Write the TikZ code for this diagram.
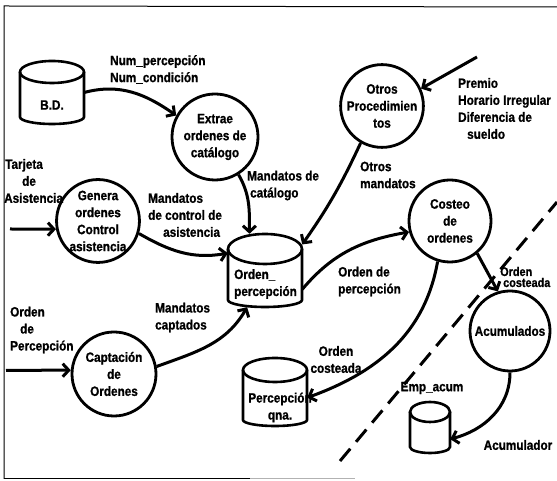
\documentclass[tikz,border=0pt]{standalone}
\usepackage{fontspec}
\setmainfont{Liberation Sans}[FakeStretch=0.87,FakeBold=1]
\usetikzlibrary{arrows.meta}

\begin{document}
\begin{tikzpicture}[x=1pt,y=1pt,
    every node/.style={font=\bfseries\fontsize{13.5}{17}\selectfont},
    proceso/.style={circle,draw,line width=2.8pt,minimum size=#1,inner sep=0pt,align=center},
    proceso/.default=82pt,
    borde/.style={line width=2.6pt},
    flujo/.style={line width=3pt,-{Straight Barb[length=6pt,width=13pt]}},
    etiqueta/.style={align=left,inner sep=0pt,anchor=west}]
        \useasboundingbox (0,0) rectangle (557,481);
        % cornice
        \draw[line width=1pt] (4,2) -- (4,475) -- (557,474);
        \draw[line width=1pt] (4,2) -- (250,2);
        \draw[line width=1pt,gray!60] (250,2) -- (355,2);
        % archivi
        \draw[borde] (52,409) ellipse (32pt and 11pt);
        \draw[borde] (20,409) -- (20,364) arc (180:360:32pt and 7pt) -- (84,409);
        \node[minimum width=64pt,minimum height=63pt] (bd) at (52,388.5) {};
        \node (bdtxt) at (52,376) {B.D.};
        \draw[borde] (265,232) ellipse (37pt and 15pt);
        \draw[borde] (228,232) -- (228,181) arc (180:360:37pt and 7pt) -- (302,232);
        \node[minimum width=74pt,minimum height=73pt] (op) at (265,210.5) {};
        \node[etiqueta] (optxt) at (234,197) {Orden\_\\percepción};
        \draw[borde] (275,111) ellipse (32pt and 12pt);
        \draw[borde] (243,111) -- (243,61) arc (180:360:32pt and 6pt) -- (307,111);
        \node[minimum width=64pt,minimum height=68pt] (pq) at (275,89) {};
        \node[align=center,inner sep=0pt] (pqtxt) at (280,73.5) {Percepción\\qna.};
        \draw[borde] (430,69) ellipse (20pt and 10pt);
        \draw[borde] (410,69) -- (410,34) arc (180:360:20pt and 6pt) -- (450,69);
        \node[minimum width=40pt,minimum height=51pt] (ea) at (430,53.5) {};
        % processi
        \node[proceso=86pt] (extrae) at (215,344) {Extrae\\ordenes de\\catálogo};
        \node[proceso] (otros) at (382,375) {Otros\\Procedimien\\tos};
        \node[proceso] (genera) at (98,260) {Genera\\ordenes\\Control\\asistencia};
        \node[proceso=84pt] (captacion) at (114,107) {Captación\\de\\Ordenes};
        \node[proceso] (costeo) at (450,260) {Costeo\\de\\ordenes};
        \node[proceso=80pt] (acumulados) at (510,150) {Acumulados};
        % ingressi esterni
        \coordinate (tarjeta) at (10,252);
        \coordinate (orden) at (6,110.7);
        \coordinate (premio) at (477,424);
        % flussi
        \draw[flujo] (tarjeta) -- (genera.191);
        \draw[flujo] (orden) -- (captacion.175);
        \draw[flujo] (premio) -- (otros.24);
        \draw[flujo] (bd.east) to[out=15,in=145] (extrae.151);
        \draw[flujo] (extrae.-58) to[out=-60,in=90] (op.113);
        \draw[flujo] (genera.-17) to[out=-30,in=190] (op.155);
        \draw[flujo] (captacion.10) to[out=20,in=240] (op.244);
        \draw[flujo] (otros.240) to[out=-115,in=55] (op.35);
        \draw[flujo] (op.-27) to[out=50,in=190] (costeo.195);
        \draw[flujo] (costeo.253) to[out=-100,in=20] (pq.-10);
        \draw[flujo] (costeo.-50) -- (acumulados.107);
        \draw[flujo] (acumulados.south) to[out=-90,in=15] (ea.-30);
        % confine
        \draw[line width=3pt,dash pattern=on 16pt off 9pt] (340,20) -- (557,279);
        % etichette
        \node[etiqueta] (lnum) at (110,411.5) {Num\_percepción\\Num\_condición};
        \node[etiqueta] (lcat) at (247,295.5) {Mandatos de\\\hspace*{3pt}catálogo};
        \node[etiqueta] (lcontrol) at (148,266) {Mandatos\\de control de\\\hspace*{15pt}asistencia};
        \node[etiqueta] (lotros) at (360,306) {Otros\\mandatos};
        \node[etiqueta] (lpremio) at (458,372.5) {Premio\\Horario Irregular\\Diferencia de\\\hspace*{9pt}sueldo};
        \node[etiqueta] (ltarjeta) at (4,300) {\hspace*{1pt}Tarjeta\\\hspace*{18pt}de\\Asistencia};
        \node[etiqueta] (lorden) at (10,151) {Orden\\\hspace*{10pt}de\\Percepción};
        \node[etiqueta] (lcapt) at (155,163.5) {Mandatos\\captados};
        \node[etiqueta] (lperc) at (338,199.5) {Orden de\\percepción};
        \node[align=center,inner sep=0pt] (lcost) at (336,121.5) {Orden\\costeada};
        \node[etiqueta,font=\bfseries\fontsize{12.5}{11}\selectfont] (lcost2) at (500,204) {Orden\\\hspace*{3pt}costeada};
        \node (lemp) at (432,93) {Emp\_acum};
        \node (lacum) at (518,36) {Acumulador};
\end{tikzpicture}
\end{document}
